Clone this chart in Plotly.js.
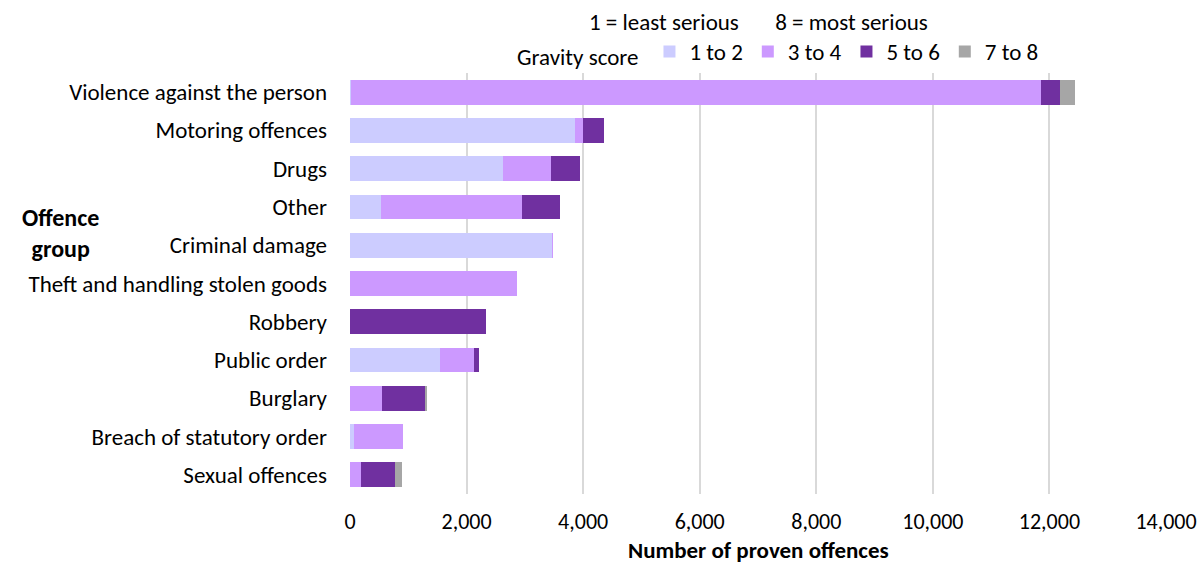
<!DOCTYPE html>
<html>
<head>
<meta charset="utf-8">
<script src="https://cdn.plot.ly/plotly-3.0.1.min.js"></script>
<style>html,body{margin:0;padding:0;background:#fff}#chart{width:1200px;height:564px}</style>
</head>
<body>
<div id="chart"></div>
<script>
const categories = ["Violence against the person","Motoring offences","Drugs","Other","Criminal damage","Theft and handling stolen goods","Robbery","Public order","Burglary","Breach of statutory order","Sexual offences"];
const score1to2 = [20, 3863, 2627, 527, 3473, 0, 0, 1545, 0, 63, 0];
const score3to4 = [11833, 130, 830, 2426, 10, 2867, 0, 577, 555, 847, 183];
const score5to6 = [326, 369, 492, 653, 0, 0, 2335, 97, 738, 0, 595];
const score7to8 = [258, 0, 0, 0, 0, 0, 0, 0, 34, 0, 115];
const seriesNames = ["1 to 2","3 to 4","5 to 6","7 to 8"];
const seriesColors = ["#ccccff","#cc99ff","#7030a0","#a6a6a6"];
const seriesValues = [score1to2, score3to4, score5to6, score7to8];

const FONT = "Carlito, Lato, 'Open Sans', sans-serif";
const traces = seriesValues.map((vals, i) => ({
  type: "bar",
  orientation: "h",
  name: seriesNames[i],
  y: categories,
  x: vals,
  marker: {color: seriesColors[i], line: {width: 0}},
  hoverinfo: "x+name"
}));

const layout = {
  width: 1200, height: 564,
  barmode: "stack",
  bargap: 0.35,
  margin: {l: 350, r: 34, t: 73, b: 70},
  paper_bgcolor: "#fff", plot_bgcolor: "#fff",
  font: {family: FONT, size: 23, color: "#000"},
  showlegend: true,
  legend: {
    orientation: "h", x: 0.367, xanchor: "left", y: 1.0, yanchor: "bottom",
    font: {size: 23}, itemwidth: 30, tracegroupgap: 0, traceorder: "normal"
  },
  xaxis: {
    range: [0, 14000], tickvals: [0,2000,4000,6000,8000,10000,12000,14000],
    tickformat: ",d", showgrid: true, gridcolor: "#d9d9d9", gridwidth: 2,
    zeroline: false, showline: false, ticks: "", ticklabelstandoff: 12,
    tickfont: {size: 22}, automargin: false
  },
  yaxis: {
    autorange: "reversed", showgrid: false, zeroline: false, ticks: "",
    ticklabelstandoff: 22, tickfont: {size: 23}, automargin: false
  },
  annotations: [
    {text: "1 = least serious       8 = most serious", xref: "paper", yref: "paper",
     x: 0.5, y: 1.0, yshift: 51, xanchor: "center", yanchor: "middle", showarrow: false,
     font: {size: 23}},
    {text: "Gravity score", xref: "paper", yref: "paper",
     x: 0.202, y: 1.0, yshift: 16, xanchor: "left", yanchor: "middle", showarrow: false,
     font: {size: 23}},
    {text: "<b>Number of proven offences</b>", xref: "paper", yref: "paper",
     x: 0.5, y: 0, yshift: -56, xanchor: "center", yanchor: "middle", showarrow: false,
     font: {size: 23}},
    {text: "<b>Offence<br>group</b>", xref: "paper", yref: "paper", x: -0.355, y: 0.62,
     xanchor: "center", yanchor: "middle", showarrow: false, align: "center",
     font: {size: 24}}
  ]
};
Plotly.newPlot("chart", traces, layout, {displayModeBar: false, staticPlot: true});
</script>
</body>
</html>
